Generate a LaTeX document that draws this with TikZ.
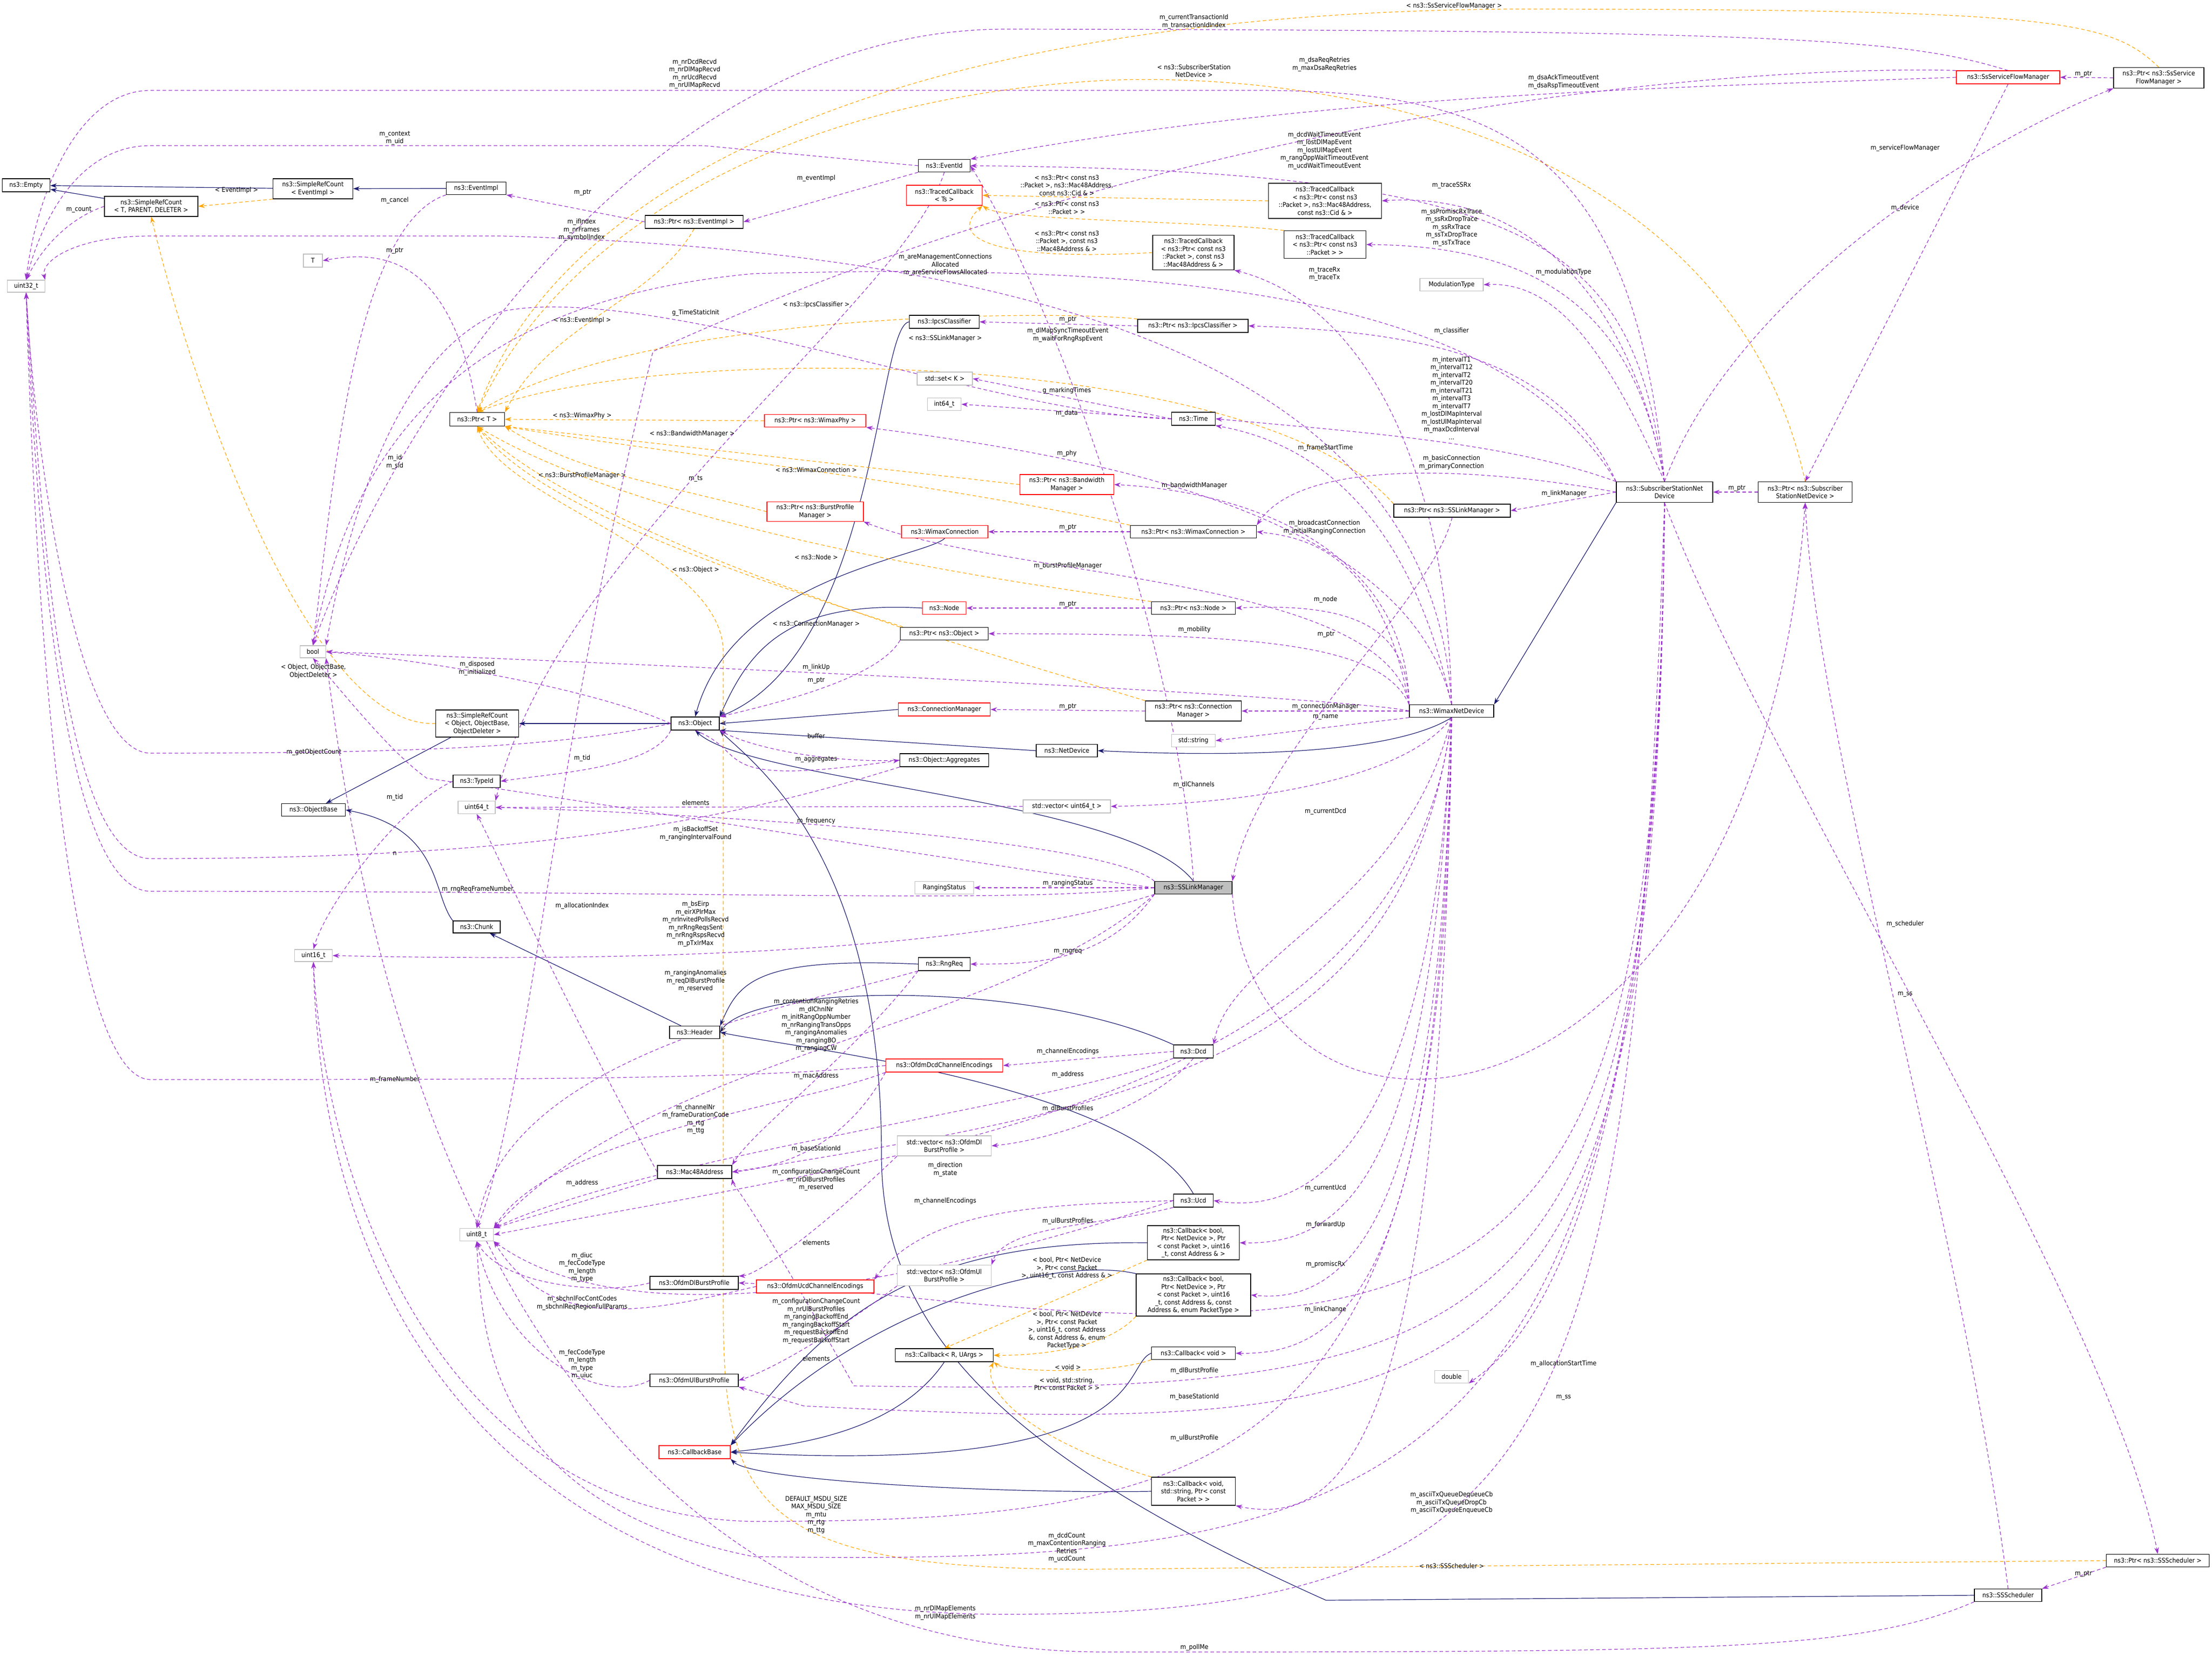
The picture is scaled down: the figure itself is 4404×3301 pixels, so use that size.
\documentclass[tikz,border=0pt]{standalone}
\usepackage{fontspec}
\setmainfont{DejaVu Sans Condensed}
\usetikzlibrary{arrows.meta}
\definecolor{memcol}{HTML}{9A32CD}
\definecolor{tplcol}{HTML}{FFA500}
\definecolor{inhcol}{HTML}{191970}
\newcommand\fs{\fontsize{13}{15.5}\selectfont}
\pgfdeclarelayer{edges}
\pgfsetlayers{edges,main}
\tikzset{
  cls/.style={draw=black, line width=1.2pt, fill=white, inner sep=1pt, align=center, font=\fs},
  redcls/.style={cls, draw=red},
  graycls/.style={cls, draw=gray!50},
  lbl/.style={font=\fs, align=center, inner sep=0pt},
  mem/.style={draw=memcol, line width=1.2pt, dash pattern=on 7pt off 5pt, -{Stealth[length=13pt,width=9pt]}},
  tpl/.style={draw=tplcol, line width=1.2pt, dash pattern=on 7pt off 5pt, -{Stealth[length=13pt,width=9pt]}},
  inh/.style={draw=inhcol, line width=1.2pt, -{Stealth[length=13pt,width=9pt]}}
}
\begin{document}
\catcode`\_=12
\begin{tikzpicture}[x=1pt, y=-1pt]
\useasboundingbox (0,0) rectangle (4404,3301);

% classes
\node[cls, minimum width=95, minimum height=26] (empty) at (52,369) {ns3::Empty};
\node[cls, minimum width=159, minimum height=40] (srcEv) at (623,376) {ns3::SimpleRefCount\\< EventImpl >};
\node[cls, minimum width=186, minimum height=40] (srcT) at (301,411) {ns3::SimpleRefCount\\< T, PARENT, DELETER >};
\node[cls, minimum width=119, minimum height=25] (eventImpl) at (948,375) {ns3::EventImpl};
\node[cls, minimum width=195, minimum height=26] (ptrEv) at (1382,442) {ns3::Ptr< ns3::EventImpl >};
\node[graycls, minimum width=38, minimum height=26] (T) at (623,519) {T};
\node[graycls, minimum width=75, minimum height=24] (uint32) at (52,570) {uint32_t};
\node[cls, minimum width=109, minimum height=27] (ptrT) at (950,835) {ns3::Ptr< T >};
\node[cls, minimum width=103, minimum height=25] (eventId) at (1880,330) {ns3::EventId};
\node[redcls, minimum width=151, minimum height=40] (tcTs) at (1880,389) {ns3::TracedCallback\\< Ts >};
\node[cls, minimum width=225, minimum height=70] (tcA) at (2638,400) {ns3::TracedCallback\\< ns3::Ptr< const ns3\\::Packet >, ns3::Mac48Address,\\const ns3::Cid \& >};
\node[cls, minimum width=163, minimum height=55] (tcB) at (2638,487) {ns3::TracedCallback\\< ns3::Ptr< const ns3\\::Packet > >};
\node[cls, minimum width=162, minimum height=69] (tcC) at (2376,503) {ns3::TracedCallback\\< ns3::Ptr< const ns3\\::Packet >, const ns3\\::Mac48Address \& >};
\node[graycls, minimum width=126, minimum height=25] (modType) at (2890,567) {ModulationType};
\node[cls, minimum width=139, minimum height=26] (ipcs) at (1880,641) {ns3::IpcsClassifier};
\node[cls, minimum width=220, minimum height=26] (ptrIpcs) at (2375,649) {ns3::Ptr< ns3::IpcsClassifier >};
\node[graycls, minimum width=110, minimum height=26] (setK) at (1881,754) {std::set< K >};
\node[graycls, minimum width=67, minimum height=25] (int64) at (1880,805) {int64_t};
\node[cls, minimum width=87, minimum height=26] (time) at (2376,834) {ns3::Time};
\node[redcls, minimum width=202, minimum height=25] (ptrPhy) at (1623,838) {ns3::Ptr< ns3::WimaxPhy >};
\node[redcls, minimum width=187, minimum height=40] (ptrBw) at (2124,965) {ns3::Ptr< ns3::Bandwidth\\Manager >};
\node[redcls, minimum width=192, minimum height=39] (ptrBpm) at (1623,1019) {ns3::Ptr< ns3::BurstProfile\\Manager >};
\node[redcls, minimum width=172, minimum height=25] (wconn) at (1881,1059) {ns3::WimaxConnection};
\node[cls, minimum width=251, minimum height=25] (ptrWconn) at (2376,1059) {ns3::Ptr< ns3::WimaxConnection >};
\node[cls, minimum width=232, minimum height=26] (ptrLm) at (2891,1017) {ns3::Ptr< ns3::SSLinkManager >};
\node[redcls, minimum width=206, minimum height=26] (ssfm) at (3998,154) {ns3::SsServiceFlowManager};
\node[cls, minimum width=180, minimum height=41] (ptrSsfm) at (4298,155) {ns3::Ptr< ns3::SsService\\FlowManager >};
\node[cls, minimum width=192, minimum height=41] (ssnd) at (3314,980) {ns3::SubscriberStationNet\\Device};
\node[cls, minimum width=187, minimum height=41] (ptrSsnd) at (3594,980) {ns3::Ptr< ns3::Subscriber\\StationNetDevice >};
\node[graycls, minimum width=51, minimum height=24] (bool) at (623,1298) {bool};
\node[cls, minimum width=165, minimum height=54] (srcObj) at (950,1441) {ns3::SimpleRefCount\\< Object, ObjectBase,\\ObjectDeleter >};
\node[cls, minimum width=96, minimum height=26] (object) at (1384,1441) {ns3::Object};
\node[cls, minimum width=94, minimum height=25] (typeId) at (949,1556) {ns3::TypeId};
\node[cls, minimum width=127, minimum height=25] (objBase) at (624,1613) {ns3::ObjectBase};
\node[graycls, minimum width=74, minimum height=25] (uint64) at (949,1608) {uint64_t};
\node[cls, minimum width=94, minimum height=24] (chunk) at (949,1846) {ns3::Chunk};
\node[graycls, minimum width=75, minimum height=24] (uint16) at (624,1903) {uint16_t};
\node[cls, minimum width=100, minimum height=25] (header) at (1383,2056) {ns3::Header};
\node[redcls, minimum width=87, minimum height=25] (node) at (1880,1211) {ns3::Node};
\node[cls, minimum width=167, minimum height=25] (ptrNode) at (2376,1211) {ns3::Ptr< ns3::Node >};
\node[cls, minimum width=175, minimum height=25] (ptrObj) at (1880,1262) {ns3::Ptr< ns3::Object >};
\node[redcls, minimum width=183, minimum height=26] (connMgr) at (1880,1413) {ns3::ConnectionManager};
\node[cls, minimum width=191, minimum height=40] (ptrConn) at (2376,1416) {ns3::Ptr< ns3::Connection\\Manager >};
\node[cls, minimum width=168, minimum height=25] (wnd) at (2890,1416) {ns3::WimaxNetDevice};
\node[graycls, minimum width=87, minimum height=25] (string) at (2376,1475) {std::string};
\node[cls, minimum width=122, minimum height=25] (netDev) at (2124,1495) {ns3::NetDevice};
\node[cls, minimum width=177, minimum height=26] (aggr) at (1880,1514) {ns3::Object::Aggregates};
\node[graycls, minimum width=174, minimum height=26] (vec64) at (2124,1606) {std::vector< uint64_t >};
\node[graycls, minimum width=117, minimum height=25] (rangStat) at (1880,1768) {RangingStatus};
\node[cls, fill=gray!50, minimum width=154, minimum height=25] (sslm) at (2376,1768) {ns3::SSLinkManager};
\node[cls, minimum width=103, minimum height=26] (rngReq) at (1880,1920) {ns3::RngReq};
\node[cls, minimum width=79, minimum height=26] (dcd) at (2376,2094) {ns3::Dcd};
\node[redcls, minimum width=233, minimum height=26] (dcdEnc) at (1880,2122) {ns3::OfdmDcdChannelEncodings};
\node[cls, minimum width=148, minimum height=26] (mac48) at (1383,2334) {ns3::Mac48Address};
\node[graycls, minimum width=67, minimum height=25] (uint8) at (949,2459) {uint8_t};
\node[cls, minimum width=176, minimum height=26] (dlBP) at (1382,2555) {ns3::OfdmDlBurstProfile};
\node[cls, minimum width=176, minimum height=25] (ulBP) at (1382,2749) {ns3::OfdmUlBurstProfile};
\node[redcls, minimum width=142, minimum height=26] (cbBase) at (1383,2892) {ns3::CallbackBase};
\node[graycls, minimum width=187, minimum height=40] (vecDl) at (1880,2282) {std::vector< ns3::OfdmDl\\BurstProfile >};
\node[cls, minimum width=79, minimum height=26] (ucd) at (2376,2391) {ns3::Ucd};
\node[cls, minimum width=183, minimum height=68] (cbA) at (2376,2475) {ns3::Callback< bool,\\Ptr< NetDevice >, Ptr\\< const Packet >, uint16\\_t, const Address \& >};
\node[redcls, minimum width=234, minimum height=26] (ucdEnc) at (1623,2562) {ns3::OfdmUcdChannelEncodings};
\node[graycls, minimum width=187, minimum height=41] (vecUl) at (1880,2540) {std::vector< ns3::OfdmUl\\BurstProfile >};
\node[cls, minimum width=228, minimum height=84] (cbB) at (2376,2579) {ns3::Callback< bool,\\Ptr< NetDevice >, Ptr\\< const Packet >, uint16\\_t, const Address \&, const\\Address \&, enum PacketType >};
\node[cls, minimum width=195, minimum height=26] (cbR) at (1880,2699) {ns3::Callback< R, UArgs >};
\node[cls, minimum width=167, minimum height=25] (cbVoid) at (2376,2695) {ns3::Callback< void >};
\node[graycls, minimum width=67, minimum height=25] (double) at (2890,2742) {double};
\node[cls, minimum width=167, minimum height=56] (cbStr) at (2376,2970) {ns3::Callback< void,\\std::string, Ptr< const\\Packet > >};
\node[cls, minimum width=205, minimum height=25] (ptrSch) at (4296,3108) {ns3::Ptr< ns3::SSScheduler >};
\node[cls, minimum width=134, minimum height=25] (sched) at (3998,3177) {ns3::SSScheduler};

\begin{pgfonlayer}{edges}
% inheritance
\draw[inh] (srcEv) -- (empty);
\draw[inh] (srcT) -- (empty);
\draw[inh] (eventImpl) -- (srcEv);
\draw[inh] (srcObj) -- (objBase);
\draw[inh] (object) -- (srcObj);
\draw[inh] (chunk.north west) .. controls (860,1780) and (880,1650) .. (objBase.east);
\draw[inh] (header) -- (chunk);
\draw[inh] (ipcs.west) .. controls (1745,650) and (1745,1300) .. (object.north east);
\draw[inh] (wconn.south) .. controls (1840,1110) and (1460,1150) .. (object.north);
\draw[inh] (node.west) .. controls (1560,1195) and (1490,1300) .. (object.north east);
\draw[inh] (connMgr.west) -- (object.east);
\draw[inh] (netDev.west) -- (object.south east);
\draw[inh] (sslm.north) .. controls (2250,1590) and (1500,1560) .. (object.south);
\draw[inh] (wnd.south) .. controls (2760,1510) and (2400,1505) .. (netDev.east);
\draw[inh] (ssnd.south west) -- (wnd.north east);
\draw[inh] (rngReq.west) .. controls (1500,1905) and (1470,1960) .. (header.north east);
\draw[inh] (dcd.north west) .. controls (2050,1950) and (1500,1960) .. (header.east);
\draw[inh] (ucd.north) .. controls (2250,2160) and (1600,2090) .. (header.east);
\draw[inh] (cbA.west) .. controls (1850,2470) and (1660,2600) .. (cbBase.north east);
\draw[inh] (cbB.north west) .. controls (2100,2500) and (1720,2600) .. (cbBase.north east);
\draw[inh] (cbR.south) .. controls (1780,2860) and (1560,2880) .. (cbBase.east);
\draw[inh] (cbVoid.west) .. controls (2230,2720) and (2300,2940) .. (cbBase.east);
\draw[inh] (cbStr.west) .. controls (2000,2975) and (1500,2950) .. (cbBase.south east);
\draw[inh] (sched.west) -- (2640,3187) .. controls (2000,2900) and (1755,2650) .. (1755,2300) .. controls (1755,1700) and (1500,1520) .. (object.south east);

% templates
\draw[tpl] (srcEv.south west) -- (srcT.east);
\draw[tpl] (srcObj.west) .. controls (620,1450) and (390,800) .. (srcT.south);
\draw[tpl] (ptrEv.south) .. controls (1300,600) and (1100,640) .. (ptrT.north east);
\draw[tpl] (ptrPhy.west) -- (ptrT.east);
\draw[tpl] (ptrBw.west) -- (ptrT.south east);
\draw[tpl] (ptrBpm.west) .. controls (1300,960) and (1150,940) .. (ptrT.south east);
\draw[tpl] (ptrWconn.north west) .. controls (1800,950) and (1300,900) .. (ptrT.south east);
\draw[tpl] (ptrNode.north west) .. controls (1700,1120) and (1200,1000) .. (ptrT.south);
\draw[tpl] (ptrObj.north west) .. controls (1500,1150) and (1100,1000) .. (ptrT.south);
\draw[tpl] (ptrConn.north west) .. controls (1700,1220) and (1100,1050) .. (ptrT.south);
\draw[tpl] (ptrIpcs.north west) .. controls (2150,620) and (1300,610) .. (ptrT.north);
\draw[tpl] (ptrLm.north west) .. controls (2500,690) and (1300,680) .. (ptrT.north);
\draw[tpl] (ptrSsnd.north) .. controls (3450,300) and (2700,140) .. (2200,160) .. controls (1500,200) and (1100,500) .. (ptrT.north);
\draw[tpl] (ptrSsfm.north) .. controls (4200,40) and (4100,18) .. (3000,18) .. controls (1700,30) and (1100,400) .. (ptrT.north);
\draw[tpl] (ptrSch.west) -- (2200,3125) .. controls (1500,3130) and (1440,3000) .. (1440,2600) -- (1440,1300) .. controls (1440,1100) and (1000,1000) .. (ptrT.south);
\draw[tpl] (tcA.west) -- (tcTs.east);
\draw[tpl] (tcB.north west) .. controls (2400,440) and (2000,440) .. (tcTs.south east);
\draw[tpl] (tcC.west) .. controls (2000,520) and (1880,480) .. (tcTs.south east);
\draw[tpl] (cbA.south west) -- (cbR.north);
\draw[tpl] (cbB.south west) .. controls (2200,2690) and (2050,2700) .. (cbR.east);
\draw[tpl] (cbVoid.south west) .. controls (2200,2740) and (2000,2730) .. (cbR.south east);
\draw[tpl] (cbStr.north west) .. controls (2000,2850) and (1960,2750) .. (cbR.south east);

% members
\draw[mem] (srcT.west) .. controls (150,430) and (90,480) .. (uint32.north);
\draw[mem] (eventImpl.south west) .. controls (700,450) and (660,1000) .. (bool.north);
\draw[mem] (ptrEv.west) -- (eventImpl.south east);
\draw[mem] (ptrT.north) .. controls (900,500) and (750,500) .. (T.east);
\draw[mem] (eventId.south west) -- (ptrEv.east);
\draw[mem] (eventId.west) -- (1400,290) -- (300,290) .. controls (150,290) and (80,450) .. (uint32.north);
\draw[mem] (eventId.south) .. controls (1800,600) and (1100,1100) .. (uint64.north east);
\draw[mem] (sslm.north) .. controls (2350,1300) and (2100,600) .. (eventId.east);
\draw[mem] (ssnd.north) .. controls (3250,500) and (3100,340) .. (eventId.east);
\draw[mem] (ssfm.west) .. controls (3300,175) and (2600,190) .. (eventId.north east);
\draw[mem] (ssfm.north) .. controls (3800,80) and (3600,60) .. (2000,58) .. controls (1300,60) and (800,800) .. (bool.north);
\draw[mem] (ssfm.north west) .. controls (3500,130) and (2400,200) .. (1300,700) .. controls (1100,1500) and (1050,2200) .. (uint8.north);
\draw[mem] (ssnd.north) .. controls (3250,300) and (3000,180) .. (2500,180) -- (300,180) .. controls (150,180) and (70,400) .. (uint32.north);
\draw[mem] (ssnd.north) .. controls (3250,600) and (3050,380) .. (tcA.east);
\draw[mem] (ssnd.north) .. controls (3260,650) and (3100,490) .. (tcB.east);
\draw[mem] (wnd.north) .. controls (2880,900) and (2700,600) .. (tcC.south east);
\draw[mem] (ssnd.north) .. controls (3200,700) and (3100,560) .. (modType.east);
\draw[mem] (ssnd.north west) .. controls (3100,700) and (2800,660) .. (ptrIpcs.east);
\draw[mem] (ptrIpcs.west) -- (ipcs.east);
\draw[mem] (ssnd.north west) .. controls (3000,880) and (2700,860) .. (time.east);
\draw[mem] (time.west) -- (setK.east);
\draw[mem] (time.west) -- (int64.east);
\draw[mem] (time.west) .. controls (2000,830) and (1300,560) .. (1000,620) .. controls (800,700) and (700,1000) .. (bool.north east);
\draw[mem] (ssnd.west) -- (ptrLm.east);
\draw[mem] (ptrLm.south) .. controls (2850,1200) and (2500,1500) .. (sslm.north east);
\draw[mem] (ssnd.north) .. controls (3450,600) and (3900,300) .. (ptrSsfm.south west);
\draw[mem] (ptrSsfm.west) -- (ssfm.east);
\draw[mem] (ssfm.south) -- (ptrSsnd.north);
\draw[mem] (ptrSsnd.west) -- (ssnd.east);
\draw[mem] (sslm.south east) .. controls (2500,2400) and (3500,2300) .. (ptrSsnd.south);
\draw[mem] (sched.north) .. controls (3900,2400) and (3620,1500) .. (ptrSsnd.south);
\draw[mem] (ssnd.south) .. controls (3500,1500) and (4200,2600) .. (ptrSch.north);
\draw[mem] (ptrSch.south west) -- (sched.north east);
\draw[mem] (sched.south west) .. controls (3700,3290) and (3400,3290) .. (2200,3290) .. controls (900,3290) and (700,1700) .. (bool.south east);
\draw[mem] (ssnd.south) .. controls (3250,2900) and (3100,3215) .. (2000,3215) .. controls (1000,3215) and (640,2600) .. (uint16.south);
\draw[mem] (wnd.north) .. controls (2800,1000) and (2100,900) .. (ptrPhy.south east);
\draw[mem] (wnd.north west) .. controls (2800,1100) and (2500,980) .. (ptrBw.east);
\draw[mem] (wnd.north west) .. controls (2760,1150) and (2000,1150) .. (ptrBpm.south east);
\draw[mem] (wnd.north west) .. controls (2750,1100) and (2600,1070) .. (ptrWconn.east);
\draw[mem] (ssnd.west) .. controls (3000,940) and (2600,900) .. (ptrWconn.north east);
\draw[mem] (ptrWconn.west) -- (wconn.east);
\draw[mem] (wnd.north) .. controls (2800,1000) and (2600,880) .. (time.south east);
\draw[mem] (wnd.north west) .. controls (2800,1250) and (2700,1200) .. (ptrNode.east);
\draw[mem] (ptrNode.west) -- (node.east);
\draw[mem] (wnd.north west) .. controls (2750,1280) and (2500,1262) .. (ptrObj.east);
\draw[mem] (ptrObj.south west) .. controls (1750,1350) and (1550,1400) .. (object.north east);
\draw[mem] (wnd.west) .. controls (2700,1390) and (1500,1330) .. (bool.east);
\draw[mem] (wnd.west) -- (ptrConn.east);
\draw[mem] (ptrConn.west) -- (connMgr.east);
\draw[mem] (wnd.south west) -- (string.east);
\draw[mem] (wnd.south) .. controls (2800,1550) and (2500,1600) .. (vec64.east);
\draw[mem] (vec64.west) -- (uint64.east);
\draw[mem] (sslm.north west) .. controls (2200,1670) and (1400,1620) .. (uint64.east);
\draw[mem] (object.west) .. controls (1200,1380) and (900,1320) .. (bool.east);
\draw[mem] (object.west) .. controls (1100,1490) and (800,1500) .. (300,1500) .. controls (150,1500) and (70,900) .. (uint32.south);
\draw[mem] (object.south west) .. controls (1300,1530) and (1100,1540) .. (typeId.east);
\draw[mem] (object.south) .. controls (1500,1500) and (1400,1570) .. (aggr.west);
\draw[mem] (aggr.west) .. controls (1650,1520) and (1500,1490) .. (object.south east);
\draw[mem] (typeId.west) .. controls (800,1600) and (650,1800) .. (uint16.north);
\draw[mem] (aggr.south west) .. controls (1400,1650) and (1000,1710) .. (300,1710) .. controls (120,1710) and (80,1000) .. (uint32.south);
\draw[mem] (sslm.west) .. controls (2000,1730) and (1200,1600) .. (850,1550) .. controls (780,1500) and (700,1400) .. (bool.south);
\draw[mem] (sslm.west) .. controls (2000,1800) and (1500,1775) .. (300,1775) .. controls (130,1775) and (75,1100) .. (uint32.south);
\draw[mem] (sslm.west) -- (rangStat.east);
\draw[mem] (sslm.south west) .. controls (2000,1880) and (1400,1920) .. (uint16.east);
\draw[mem] (rngReq.south west) .. controls (1600,2000) and (1000,2100) .. (uint8.north);
\draw[mem] (sslm.south west) .. controls (2200,1920) and (2050,1920) .. (rngReq.east);
\draw[mem] (sslm.south west) .. controls (2000,2050) and (1300,2100) .. (uint8.north east);
\draw[mem] (rngReq.south west) .. controls (1700,2100) and (1500,2250) .. (mac48.north east);
\draw[mem] (wnd.south) .. controls (2800,1800) and (2450,1900) .. (dcd.north east);
\draw[mem] (dcd.west) -- (dcdEnc.east);
\draw[mem] (dcd.south) .. controls (2300,2200) and (2100,2270) .. (vecDl.east);
\draw[mem] (dcd.south west) .. controls (2100,2200) and (1300,2300) .. (uint8.north east);
\draw[mem] (dcdEnc.south west) .. controls (1700,2250) and (1600,2320) .. (mac48.east);
\draw[mem] (dcdEnc.south west) .. controls (1600,2200) and (1100,2260) .. (uint8.north east);
\draw[mem] (dcdEnc.west) .. controls (1500,2150) and (1000,2150) .. (300,2150) .. controls (130,2150) and (70,1200) .. (uint32.south);
\draw[mem] (mac48.south west) -- (uint8.north east);
\draw[mem] (mac48.west) .. controls (1100,1950) and (990,1700) .. (uint64.south);
\draw[mem] (wnd.south) .. controls (2800,2100) and (2300,2200) .. (mac48.east);
\draw[mem] (wnd.south) .. controls (2800,2200) and (1800,2300) .. (uint8.east);
\draw[mem] (wnd.south) .. controls (2850,2300) and (2600,2420) .. (ucd.east);
\draw[mem] (ucd.west) .. controls (2100,2400) and (1850,2400) .. (ucdEnc.north east);
\draw[mem] (ucd.south west) .. controls (2200,2440) and (2000,2440) .. (vecUl.north east);
\draw[mem] (ucd.west) .. controls (2000,2500) and (1300,2700) .. (uint8.south east);
\draw[mem] (ucdEnc.west) .. controls (1300,2610) and (1100,2660) .. (uint8.south east);
\draw[mem] (vecDl.south west) .. controls (1600,2480) and (1500,2540) .. (dlBP.north east);
\draw[mem] (vecUl.south west) .. controls (1600,2700) and (1500,2740) .. (ulBP.east);
\draw[mem] (dlBP.west) .. controls (1200,2580) and (1000,2560) .. (uint8.south);
\draw[mem] (ulBP.west) .. controls (1200,2800) and (1000,2700) .. (uint8.south);
\draw[mem] (wnd.south) .. controls (2850,2300) and (2700,2480) .. (cbA.east);
\draw[mem] (wnd.south) .. controls (2870,2400) and (2700,2600) .. (cbB.east);
\draw[mem] (wnd.south) .. controls (2870,2500) and (2700,2700) .. (cbVoid.east);
\draw[mem] (ssnd.south) .. controls (3300,2500) and (3000,2700) .. (double.south east);
\draw[mem] (ssnd.south) .. controls (3300,2600) and (3000,2730) .. (1600,2560) -- (dlBP.east);
\draw[mem] (ssnd.south) .. controls (3300,2700) and (3000,2780) .. (1700,2760) .. controls (1500,2400) and (1460,2360) .. (mac48.south east);
\draw[mem] (ssnd.south) .. controls (3300,2800) and (3000,2870) .. (1600,2800) -- (ulBP.south east);
\draw[mem] (wnd.south) .. controls (2870,2800) and (2700,3050) .. (cbStr.south east);
\draw[mem] (wnd.south) .. controls (2880,2900) and (2500,3030) .. (1500,3030) .. controls (900,3020) and (650,2400) .. (uint16.south);
\draw[mem] (ssnd.south) .. controls (3300,3000) and (2800,3120) .. (1500,3100) .. controls (1000,3000) and (960,2700) .. (uint8.south);
\draw[mem] (ssnd.north west) .. controls (3000,600) and (2400,520) .. (1500,545) .. controls (900,600) and (700,900) .. (bool.north);
\draw[mem] (wnd.north) .. controls (2850,700) and (2000,500) .. (1000,470) -- (300,470) .. controls (150,470) and (80,520) .. (uint32.north east);
\end{pgfonlayer}

% labels
\node[lbl] (l1) at (1383,147) {m_nrDcdRecvd\\m_nrDlMapRecvd\\m_nrUcdRecvd\\m_nrUlMapRecvd};
\node[lbl] (l2) at (786,275) {m_context\\m_uid};
\node[lbl] (l3) at (471,379) {< EventImpl >};
\node[lbl] (l4) at (157,417) {m_count};
\node[lbl] (l5) at (786,399) {m_cancel};
\node[lbl] (l6) at (1160,383) {m_ptr};
\node[lbl] (l7) at (1158,458) {m_ifIndex\\m_nrFrames\\m_symbolIndex};
\node[lbl] (l8) at (786,499) {m_ptr};
\node[lbl] (l9) at (1385,623) {g_TimeStaticInit};
\node[lbl] (l10) at (1159,638) {< ns3::EventImpl >};
\node[lbl] (l11) at (1159,828) {< ns3::WimaxPhy >};
\node[lbl] (l12) at (1378,864) {< ns3::BandwidthManager >};
\node[lbl] (l13) at (786,920) {m_id\\m_sid};
\node[lbl] (l14) at (1159,947) {< ns3::BurstProfileManager >};
\node[lbl] (l15) at (1385,953) {m_ts};
\node[lbl] (l16) at (2895,12) {< ns3::SsServiceFlowManager >};
\node[lbl] (l17) at (2377,43) {m_currentTransactionId\\m_transactionIdIndex};
\node[lbl] (l18) at (2377,141) {< ns3::SubscriberStation\\NetDevice >};
\node[lbl] (l19) at (2637,128) {m_dsaReqRetries\\m_maxDsaReqRetries};
\node[lbl] (l20) at (2637,300) {m_dcdWaitTimeoutEvent\\m_lostDlMapEvent\\m_lostUlMapEvent\\m_rangOppWaitTimeoutEvent\\m_ucdWaitTimeoutEvent};
\node[lbl] (l21) at (1625,355) {m_eventImpl};
\node[lbl] (l22) at (2124,369) {< ns3::Ptr< const ns3\\::Packet >, ns3::Mac48Address,\\const ns3::Cid \& >};
\node[lbl] (l23) at (2890,369) {m_traceSSRx};
\node[lbl] (l24) at (2124,414) {< ns3::Ptr< const ns3\\::Packet > >};
\node[lbl] (l25) at (2890,453) {m_ssPromiscRxTrace\\m_ssRxDropTrace\\m_ssRxTrace\\m_ssTxDropTrace\\m_ssTxTrace};
\node[lbl] (l26) at (2124,480) {< ns3::Ptr< const ns3\\::Packet >, const ns3\\::Mac48Address \& >};
\node[lbl] (l27) at (1882,528) {m_areManagementConnections\\Allocated\\m_areServiceFlowsAllocated};
\node[lbl] (l28) at (2637,546) {m_traceRx\\m_traceTx};
\node[lbl] (l29) at (1625,607) {< ns3::IpcsClassifier >};
\node[lbl] (l30) at (2126,636) {m_ptr};
\node[lbl] (l31) at (2890,659) {m_classifier};
\node[lbl] (l32) at (2126,667) {m_dlMapSyncTimeoutEvent\\m_waitForRngRspEvent};
\node[lbl] (l33) at (1882,674) {< ns3::SSLinkManager >};
\node[lbl] (l34) at (2890,793) {m_intervalT1\\m_intervalT12\\m_intervalT2\\m_intervalT20\\m_intervalT21\\m_intervalT3\\m_intervalT7\\m_lostDlMapInterval\\m_lostUlMapInterval\\m_maxDcdInterval\\...};
\node[lbl] (l35) at (2124,778) {g_markingTimes};
\node[lbl] (l36) at (2124,823) {m_data};
\node[lbl] (l37) at (2124,903) {m_phy};
\node[lbl] (l38) at (2639,892) {m_frameStartTime};
\node[lbl] (l39) at (1625,936) {< ns3::WimaxConnection >};
\node[lbl] (l40) at (2890,921) {m_basicConnection\\m_primaryConnection};
\node[lbl] (l41) at (2378,967) {m_bandwidthManager};
\node[lbl] (l42) at (2637,1050) {m_broadcastConnection\\m_initialRangingConnection};
\node[lbl] (l43) at (2126,1050) {m_ptr};
\node[lbl] (l44) at (4148,147) {m_ptr};
\node[lbl] (l45) at (3113,163) {m_dsaAckTimeoutEvent\\m_dsaRspTimeoutEvent};
\node[lbl] (l46) at (3793,295) {m_serviceFlowManager};
\node[lbl] (l47) at (3793,414) {m_device};
\node[lbl] (l48) at (3113,542) {m_modulationType};
\node[lbl] (l49) at (3458,972) {m_ptr};
\node[lbl] (l50) at (3114,983) {m_linkManager};
\node[lbl] (l51) at (1385,1135) {< ns3::Object >};
\node[lbl] (l52) at (624,1337) {< Object, ObjectBase,\\ObjectDeleter >};
\node[lbl] (l53) at (950,1331) {m_disposed\\m_initialized};
\node[lbl] (l54) at (625,1498) {m_getObjectCount};
\node[lbl] (l55) at (1159,1510) {m_tid};
\node[lbl] (l56) at (786,1588) {m_tid};
\node[lbl] (l57) at (1385,1599) {elements};
\node[lbl] (l58) at (1385,1660) {m_isBackoffSet\\m_rangingIntervalFound};
\node[lbl] (l59) at (786,1700) {n};
\node[lbl] (l60) at (951,1771) {m_rngReqFrameNumber};
\node[lbl] (l61) at (1159,1804) {m_allocationIndex};
\node[lbl] (l62) at (1385,1840) {m_bsEirp\\m_eirXPIrMax\\m_nrInvitedPollsRecvd\\m_nrRngReqsSent\\m_nrRngRspsRecvd\\m_pTxIrMax};
\node[lbl] (l63) at (1385,1954) {m_rangingAnomalies\\m_reqDlBurstProfile\\m_reserved};
\node[lbl] (l64) at (786,2150) {m_frameNumber};
\node[lbl] (l65) at (1625,1110) {< ns3::Node >};
\node[lbl] (l66) at (2126,1127) {m_burstProfileManager};
\node[lbl] (l67) at (2126,1203) {m_ptr};
\node[lbl] (l68) at (2639,1194) {m_node};
\node[lbl] (l69) at (1625,1243) {< ns3::ConnectionManager >};
\node[lbl] (l70) at (2378,1254) {m_mobility};
\node[lbl] (l71) at (2640,1263) {m_ptr};
\node[lbl] (l72) at (1625,1329) {m_linkUp};
\node[lbl] (l73) at (1625,1355) {m_ptr};
\node[lbl] (l74) at (2126,1407) {m_ptr};
\node[lbl] (l75) at (2639,1407) {m_connectionManager};
\node[lbl] (l76) at (2639,1428) {m_name};
\node[lbl] (l77) at (1625,1466) {buffer};
\node[lbl] (l78) at (1625,1512) {m_aggregates};
\node[lbl] (l79) at (2377,1563) {m_dlChannels};
\node[lbl] (l80) at (2639,1616) {m_currentDcd};
\node[lbl] (l81) at (1625,1635) {m_frequency};
\node[lbl] (l82) at (2126,1759) {m_rangingStatus};
\node[lbl] (l83) at (2126,1895) {m_rngreq};
\node[lbl] (l84) at (1625,2042) {m_contentionRangingRetries\\m_dlChnlNr\\m_initRangOppNumber\\m_nrRangingTransOpps\\m_rangingAnomalies\\m_rangingBO\\m_rangingCW};
\node[lbl] (l85) at (2126,2094) {m_channelEncodings};
\node[lbl] (l86) at (1625,2143) {m_macAddress};
\node[lbl] (l87) at (2126,2140) {m_address};
\node[lbl] (l88) at (1385,2229) {m_channelNr\\m_frameDurationCode\\m_rtg\\m_ttg};
\node[lbl] (l89) at (1159,2356) {m_address};
\node[lbl] (l90) at (1159,2524) {m_diuc\\m_fecCodeType\\m_length\\m_type};
\node[lbl] (l91) at (1159,2595) {m_sbchnlFocContCodes\\m_sbchnlReqRegionFullParams};
\node[lbl] (l92) at (1159,2717) {m_fecCodeType\\m_length\\m_type\\m_uiuc};
\node[lbl] (l93) at (2126,2208) {m_dlBurstProfiles};
\node[lbl] (l94) at (1625,2288) {m_baseStationId};
\node[lbl] (l95) at (1625,2350) {m_configurationChangeCount\\m_nrDlBurstProfiles\\m_reserved};
\node[lbl] (l96) at (1882,2329) {m_direction\\m_state};
\node[lbl] (l97) at (1882,2392) {m_channelEncodings};
\node[lbl] (l98) at (2639,2366) {m_currentUcd};
\node[lbl] (l99) at (2126,2432) {m_ulBurstProfiles};
\node[lbl] (l100) at (2639,2439) {m_forwardUp};
\node[lbl] (l101) at (1625,2475) {elements};
\node[lbl] (l102) at (2124,2526) {< bool, Ptr< NetDevice\\>, Ptr< const Packet\\>, uint16_t, const Address \& >};
\node[lbl] (l103) at (2639,2518) {m_promiscRx};
\node[lbl] (l104) at (1625,2631) {m_configurationChangeCount\\m_nrUlBurstProfiles\\m_rangingBackoffEnd\\m_rangingBackoffStart\\m_requestBackoffEnd\\m_requestBackoffStart};
\node[lbl] (l105) at (2639,2608) {m_linkChange};
\node[lbl] (l106) at (2124,2649) {< bool, Ptr< NetDevice\\>, Ptr< const Packet\\>, uint16_t, const Address\\\&, const Address \&, enum\\PacketType >};
\node[lbl] (l107) at (1625,2706) {elements};
\node[lbl] (l108) at (2126,2723) {< void >};
\node[lbl] (l109) at (2378,2730) {m_dlBurstProfile};
\node[lbl] (l110) at (2124,2756) {< void, std::string,\\Ptr< const Packet > >};
\node[lbl] (l111) at (2378,2782) {m_baseStationId};
\node[lbl] (l112) at (2378,2864) {m_ulBurstProfile};
\node[lbl] (l113) at (1625,3017) {DEFAULT_MSDU_SIZE\\MAX_MSDU_SIZE\\m_mtu\\m_rtg\\m_ttg};
\node[lbl] (l114) at (2124,3082) {m_dcdCount\\m_maxContentionRanging\\Retries\\m_ucdCount};
\node[lbl] (l115) at (2890,3119) {< ns3::SSScheduler >};
\node[lbl] (l116) at (2890,2993) {m_asciiTxQueueDequeueCb\\m_asciiTxQueueDropCb\\m_asciiTxQueueEnqueueCb};
\node[lbl] (l117) at (1882,3212) {m_nrDlMapElements\\m_nrUlMapElements};
\node[lbl] (l118) at (2378,3281) {m_pollMe};
\node[lbl] (l119) at (3113,2716) {m_allocationStartTime};
\node[lbl] (l120) at (3113,2783) {m_ss};
\node[lbl] (l121) at (4148,3134) {m_ptr};
\node[lbl] (l122) at (3793,1840) {m_scheduler};
\node[lbl] (l123) at (3793,1980) {m_ss};
\end{tikzpicture}
\end{document}
